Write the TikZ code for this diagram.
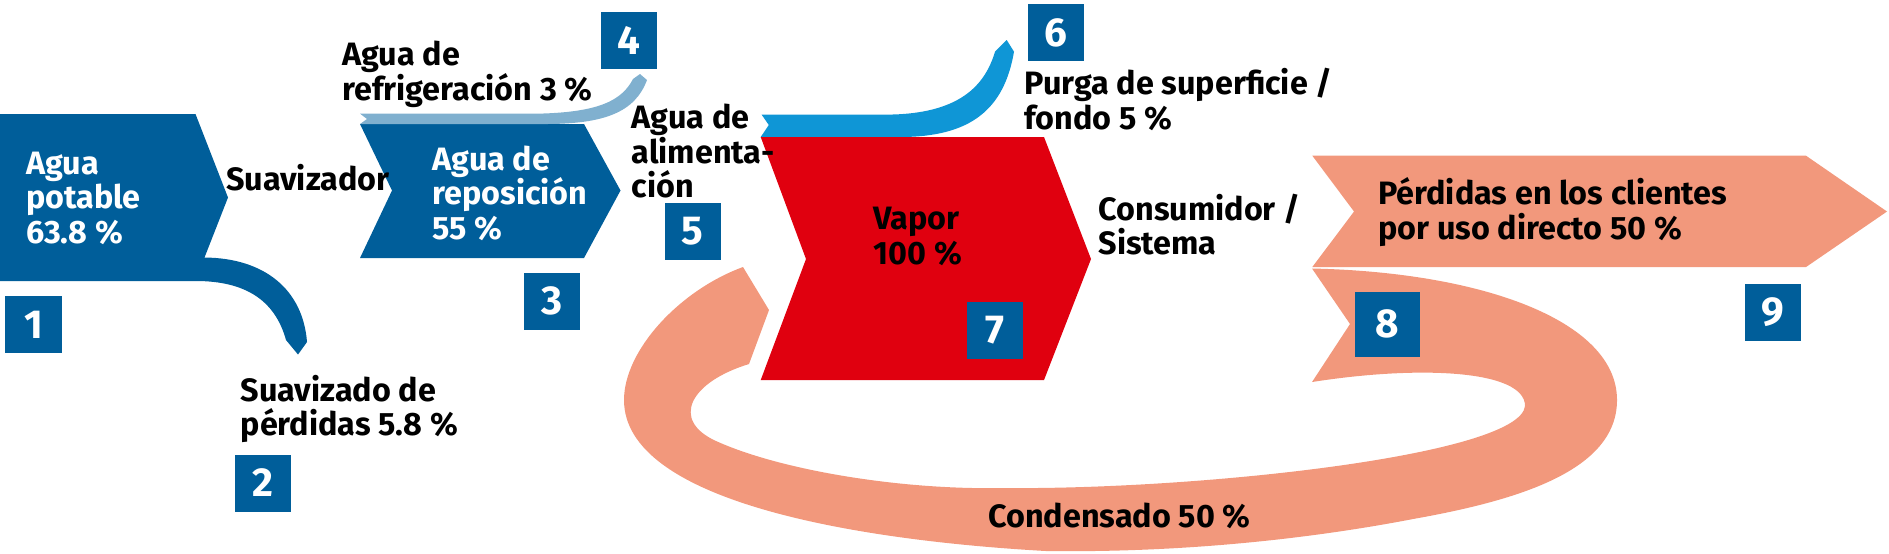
\documentclass[tikz,border=0pt]{standalone}
\usepackage{fontspec}
\setmainfont{Fira Sans}
\definecolor{boschblue}{HTML}{005E9A}
\definecolor{coolblue}{HTML}{80B0CF}
\definecolor{purgeblue}{HTML}{0F96D6}
\definecolor{steamred}{HTML}{E0000F}
\definecolor{condsalmon}{HTML}{F2987C}

\begin{document}
\begin{tikzpicture}[x=0.01cm, y=-0.01cm,
  txt/.style={anchor=base west, align=left, inner sep=0pt,
    font=\fontsize{9.2}{9.8}\selectfont\bfseries},
  num/.style={fill=boschblue, text=white, inner sep=0pt,
    minimum width=0.56cm, minimum height=0.57cm,
    font=\fontsize{11.5}{12}\selectfont\bfseries}]
  \useasboundingbox (0,0) rectangle (1889,553);
  % (1) drinking water, with the softener loss branch
  \fill[boschblue] (0,114) -- (195.5,114) -- (228,197.5) -- (204.5,257.5)
    .. controls (265,258) and (303,290) .. (307,342) -- (298,354.5) -- (286,340)
    .. controls (275,300) and (245,281) .. (196,281) -- (0,281) -- cycle;
  % (3) make-up water
  \fill[boschblue] (360,124) -- (584,124) -- (620.5,190.5) -- (584,258)
    -- (360,258) -- (392,190.5) -- cycle;
  % cooling water band
  \fill[coolblue] (360,113.6) -- (540,113.6)
    .. controls (600,112) and (622,100) .. (633,79) -- (640,74) -- (647,80)
    .. controls (635,112) and (605,124) .. (545,124) -- (360,124) -- (367,119) -- cycle;
  % blow-down band
  \fill[purgeblue] (761.6,114.6) -- (885,114.6)
    .. controls (960,114.6) and (985,85) .. (995,51.7) -- (1006.7,40) -- (1014,51.7)
    .. controls (1004,110) and (970,137) .. (900,137) -- (760.7,137) -- (768.8,125) -- cycle;
  % (7) steam
  \fill[steamred] (760.7,137) -- (1044,137) -- (1091,259) -- (1044,380)
    -- (760.7,380) -- (806,259) -- cycle;
  % (9) direct use losses
  \fill[condsalmon] (1312.3,155.7) -- (1806,155.7) -- (1887,211.5) -- (1806,267)
    -- (1312.3,267) -- (1354,211.5) -- cycle;
  % (8) condensate return loop
  \fill[condsalmon] (1312,268.5)
    .. controls (1480,272) and (1617,320) .. (1617,400)
    .. controls (1617,470) and (1520,500) .. (1413,519)
    .. controls (1330,535) and (1200,553) .. (1046,551)
    .. controls (850,540) and (624,500) .. (624,400)
    .. controls (624,350) and (680,290) .. (743,267)
    -- (769,310) -- (749,364)
    .. controls (690,382) and (670,420) .. (716,441)
    .. controls (780,470) and (900,490) .. (1002,488)
    .. controls (1200,490) and (1520,455) .. (1525,406)
    .. controls (1525,370) and (1420,365) .. (1312,382)
    -- (1350,324) -- cycle;

  % labels (placed at the baseline of their last line)
  \node[txt, text=white] (tpot) at (25.4,243) {Agua\\potable\\63.8 \%};
  \node[txt] (tsuav) at (225.4,190.5) {Suavizador};
  \node[txt, text=white] (trep) at (431.7,239) {Agua de\\reposición\\55 \%};
  \node[txt] (trefr) at (341.5,100) {Agua de\\refrigeración 3 \%};
  \node[txt] (tperd) at (240,435.6) {Suavizado de\\pérdidas 5.8 \%};
  \node[txt] (talim) at (631,197.5) {Agua de\\alimenta-\\ción};
  \node[txt] (tpurga) at (1024,129) {Purga de superficie /\\fondo 5 \%};
  \node[txt] (tvapor) at (873,264) {Vapor\\100 \%};
  \node[txt] (tcons) at (1097.8,254.7) {Consumidor /\\Sistema};
  \node[txt] (tclient) at (1377.5,239) {Pérdidas en los clientes\\por uso directo 50 \%};
  \node[txt] (tcond) at (987.5,527) {Condensado 50 \%};

  % numbered markers
  \node[num] (n1) at (33.5,324.5) {1};
  \node[num] (n2) at (263,483) {2};
  \node[num] (n3) at (551.6,301) {3};
  \node[num] (n4) at (629,40.5) {4};
  \node[num] (n5) at (692.6,231) {5};
  \node[num] (n6) at (1056.3,32.5) {6};
  \node[num] (n7) at (995,330) {7};
  \node[num, minimum width=0.65cm, minimum height=0.65cm] (n8) at (1387,324) {8};
  \node[num] (n9) at (1772.5,312.5) {9};
\end{tikzpicture}
\end{document}
